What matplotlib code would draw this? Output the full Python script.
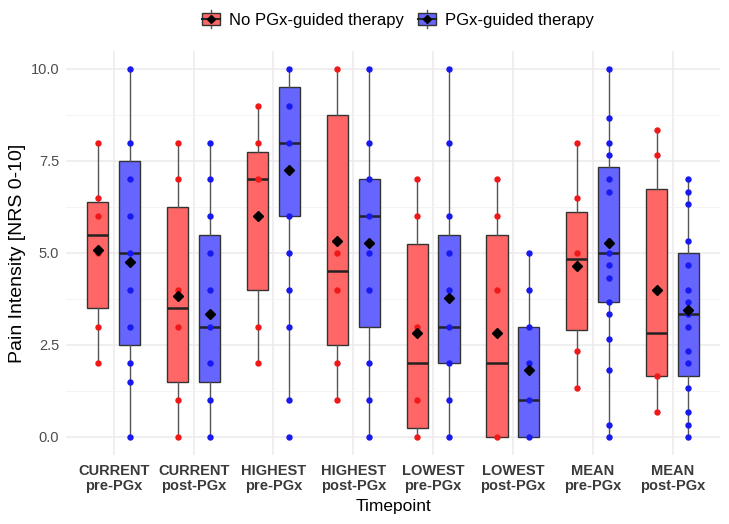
import matplotlib
matplotlib.use("Agg")
import matplotlib.pyplot as plt
import numpy as np
from matplotlib.legend_handler import HandlerBase
from matplotlib.patches import Rectangle, Patch
from matplotlib.lines import Line2D

plt.rcParams['font.family'] = ['Liberation Sans', 'DejaVu Sans']

timepoints = ["CURRENT\npre-PGx", "CURRENT\npost-PGx", "HIGHEST\npre-PGx", "HIGHEST\npost-PGx",
              "LOWEST\npre-PGx", "LOWEST\npost-PGx", "MEAN\npre-PGx", "MEAN\npost-PGx"]
group_labels = ["No PGx-guided therapy", "PGx-guided therapy"]
y_ticks = [0, 2.5, 5, 7.5, 10]
y_ticklabels = ["0.0", "2.5", "5.0", "7.5", "10.0"]

# Pain scores, no PGx-guided therapy (one list per timepoint)
no_pgx = [
    [2, 3, 5, 6, 6.5, 8],
    [0, 1, 3, 4, 7, 8],
    [2, 3, 7, 7, 8, 9],
    [1, 2, 4, 5, 10, 10],
    [0, 0, 1, 3, 6, 7],
    [0, 0, 0, 4, 6, 7],
    [1.33, 2.33, 4.67, 5.0, 6.5, 8.0],
    [0.67, 1.67, 1.67, 4.0, 7.67, 8.33],
]

# Pain scores, PGx-guided therapy (one list per timepoint)
pgx = [
    [0, 0, 0, 1.5, 2, 2, 3, 3, 3, 4, 4, 5, 5, 6, 6, 6, 7, 8, 8, 8, 8, 10, 10],
    [0, 0, 0, 1, 1, 1, 2, 2, 2, 3, 3, 3, 3, 3, 4, 5, 5, 6, 6, 6, 6, 7, 8],
    [0, 1, 3, 4, 5, 6, 6, 8, 8, 8, 8, 8, 8, 8, 8, 9, 9, 10, 10, 10, 10, 10, 10],
    [0, 1, 1, 2, 2, 2, 4, 4, 5, 5, 6, 6, 6, 6, 7, 7, 7, 7, 7, 8, 8, 10, 10],
    [0, 0, 1, 1, 2, 2, 2, 2, 3, 3, 3, 3, 3, 4, 4, 5, 5, 6, 6, 6, 8, 8, 10],
    [0, 0, 0, 0, 0, 0, 0, 0, 1, 1, 1, 1, 2, 2, 2, 2, 3, 3, 4, 5, 5, 5, 5],
    [0, 0.33, 1.83, 2.67, 3.33, 3.67, 3.67, 4.33, 4.33, 4.67, 4.67, 5.0, 5.33,
     6.67, 6.67, 7.0, 7.0, 7.67, 8.0, 8.0, 8.0, 8.67, 10.0],
    [0, 0.33, 0.33, 0.67, 1.33, 1.33, 2.0, 2.0, 2.33, 3.0, 3.33, 3.33, 3.67,
     4.0, 4.67, 4.67, 4.67, 5.33, 6.33, 6.33, 6.33, 6.67, 7.0],
]

fills = ["#FF6666", "#6666FF"]
point_colors = ["#F01818", "#1818F0"]

fig = plt.figure(figsize=(7.29, 5.24), dpi=100)
ax = fig.add_axes([66 / 729, 1 - 455.4 / 524, (720.4 - 66) / 729, (455.4 - 50.6) / 524])

pos = np.arange(1, len(timepoints) + 1)
shifts = [-0.2, 0.2]
box_w = 0.265

for vals, shift, face, pcol in zip([no_pgx, pgx], shifts, fills, point_colors):
    ax.boxplot(vals, positions=pos + shift, widths=box_w, patch_artist=True,
               showfliers=False, showcaps=False, manage_ticks=False,
               boxprops=dict(facecolor=face, edgecolor="#333333", linewidth=1.0),
               whiskerprops=dict(color="#555555", linewidth=1.0),
               medianprops=dict(color="#222222", linewidth=1.8),
               zorder=2)
    for i, v in enumerate(vals):
        uniq = np.unique(v)
        ax.plot(np.full(len(uniq), pos[i] + shift), uniq, "o", color=pcol, ms=4.6,
                mec="none", zorder=3)
        ax.plot(pos[i] + shift, np.mean(v), "D", color="black", ms=5.2,
                mec="black", zorder=4)

ax.set_xlim(0.4, len(timepoints) + 0.6)
ax.set_ylim(-0.5, 10.5)
ax.set_yticks(y_ticks)
ax.set_yticklabels(y_ticklabels)
ax.set_yticks([1.25, 3.75, 6.25, 8.75], minor=True)
ax.set_xticks(pos)
ax.set_xticklabels(timepoints, fontweight="bold", color="#3A3A3A", fontsize=10.5,
                   linespacing=1.15)
ax.tick_params(axis="y", which="both", length=0, pad=5, labelcolor="#4D4D4D", labelsize=10.5)
ax.tick_params(axis="x", length=0, pad=6)
ax.set_axisbelow(True)
ax.grid(which="major", color="#EBEBEB", linewidth=1.1)
ax.grid(which="minor", axis="y", color="#F2F2F2", linewidth=0.6)
for s in ax.spines.values():
    s.set_visible(False)

ax.set_xlabel("Timepoint", fontsize=12.5, labelpad=4)
ax.set_ylabel("Pain Intensity [NRS 0-10]", fontsize=14, labelpad=3)


class BoxKey(HandlerBase):
    def __init__(self, face):
        super().__init__()
        self.face = face

    def create_artists(self, legend, orig_handle, xdescent, ydescent, width, height,
                       fontsize, trans):
        x0, y0 = -xdescent, -ydescent
        cx = x0 + width / 2
        cy = y0 + height / 2
        vline = Line2D([cx, cx], [y0 - 0.25 * height, y0 + 1.25 * height],
                       color="#555555", lw=1.0, transform=trans)
        rect = Rectangle((x0, y0), width, height, facecolor=self.face,
                         edgecolor="#333333", lw=1.0, transform=trans)
        med = Line2D([x0, x0 + width], [cy, cy], color="#222222", lw=1.5, transform=trans)
        dia = Line2D([cx], [cy], marker="D", color="black", ms=4.5, transform=trans)
        return [vline, rect, med, dia]


handles = [Patch(facecolor=f) for f in fills]
ax.legend(handles, group_labels, handler_map={handles[0]: BoxKey(fills[0]),
                                               handles[1]: BoxKey(fills[1])},
          loc="upper center", bbox_to_anchor=(398 / 729, 1 + 2 / 524),
          bbox_transform=fig.transFigure, ncol=2, frameon=False, fontsize=12,
          handlelength=1.1, handleheight=0.75, handletextpad=0.55, columnspacing=0.8)

fig.savefig("out.png", dpi=100)
